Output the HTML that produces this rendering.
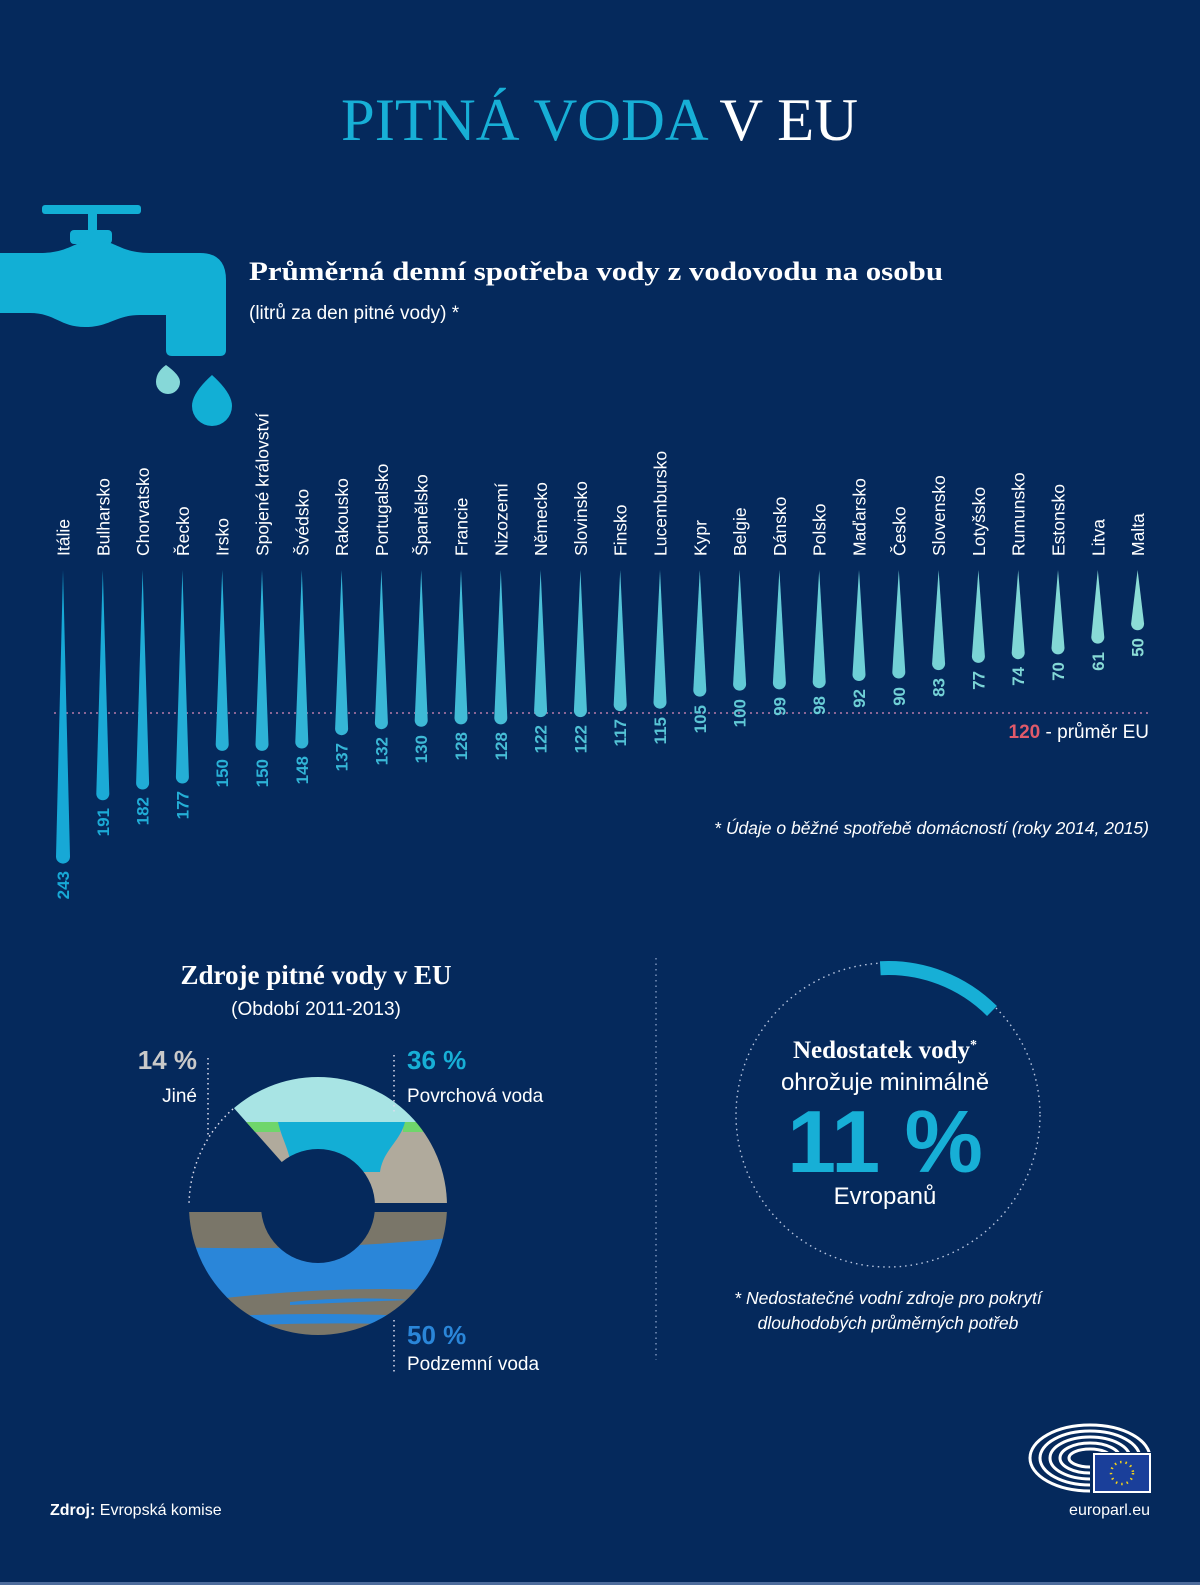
<!DOCTYPE html>
<html><head><meta charset="utf-8"><style>
html,body{margin:0;padding:0;background:#05295c}
svg{display:block}
.s{font-family:"Liberation Sans",sans-serif}
.sf{font-family:"Liberation Serif",serif}
</style></head><body>
<svg width="1200" height="1585" viewBox="0 0 1200 1585" xmlns="http://www.w3.org/2000/svg">
<defs>
<clipPath id="ctop"><polygon points="318,1203 470,1203 470,1050 187,1055"/></clipPath>
<clipPath id="cbot"><rect x="170" y="1212" width="300" height="150"/></clipPath>
<clipPath id="clogo"><path d="M1000,1400 H1160 V1452 H1090 V1500 H1000 Z"/></clipPath>
<mask id="ann"><rect x="150" y="1040" width="340" height="340" fill="#000"/><circle cx="318" cy="1206" r="129" fill="#fff"/><circle cx="318" cy="1206" r="57" fill="#000"/></mask>
</defs>
<rect width="1200" height="1585" fill="#05295c"/>
<rect y="1582" width="1200" height="3" fill="#4d6c9c"/>

<text x="341" y="140" font-size="60" class="sf" textLength="517" lengthAdjust="spacingAndGlyphs" fill="#17afd6">PITNÁ VODA <tspan fill="#fff">V EU</tspan></text>

<!-- faucet -->
<g fill="#12afd5">
<rect x="42" y="205" width="99" height="9" rx="3"/>
<rect x="88" y="212" width="9" height="22"/>
<rect x="70" y="230" width="42" height="14" rx="4"/>
<path d="M0,253 L40,253 C70,253 75,240 95,240 C115,240 120,253 150,253 L200,253 Q226,253 226,280 L226,350 Q226,356 220,356 L172,356 Q166,356 166,350 L166,315 L140,315 C115,315 110,327 85,327 C60,327 55,313 30,313 L0,313 Z"/>
<path d="M212,375 Q232,393 232,406 A20,20 0 0 1 192,406 Q192,393 212,375 Z"/>
</g>
<path d="M166,365 Q180,375 180,382 A12,12 0 0 1 156,382 Q156,372 166,365 Z" fill="#86d8d8"/>

<text x="249" y="280" font-size="26" font-weight="bold" class="sf" fill="#fff" textLength="694" lengthAdjust="spacingAndGlyphs">Průměrná denní spotřeba vody z vodovodu na osobu</text>
<text x="249" y="319" font-size="19" class="s" fill="#fff">(litrů za den pitné vody) *</text>

<line x1="54" y1="713" x2="1150" y2="713" stroke="#b87aa8" stroke-width="1.6" stroke-dasharray="2 4"/>

<!-- bars -->
<path fill="rgb(23,168,214)" transform="translate(63,570)" d="M0,0 L7,286.6 A7,7 0 0 1 -7,286.6 Z"/>
<path fill="rgb(27,170,214)" transform="translate(102.8,570)" d="M0,0 L6.5,223.8 A6.5,6.5 0 0 1 -6.5,223.8 Z"/>
<path fill="rgb(32,172,214)" transform="translate(142.6,570)" d="M0,0 L6.5,213 A6.5,6.5 0 0 1 -6.5,213 Z"/>
<path fill="rgb(36,174,214)" transform="translate(182.4,570)" d="M0,0 L6.5,207 A6.5,6.5 0 0 1 -6.5,207 Z"/>
<path fill="rgb(40,176,214)" transform="translate(222.2,570)" d="M0,0 L6.5,174.4 A6.5,6.5 0 0 1 -6.5,174.4 Z"/>
<path fill="rgb(45,178,214)" transform="translate(262,570)" d="M0,0 L6.5,174.4 A6.5,6.5 0 0 1 -6.5,174.4 Z"/>
<path fill="rgb(49,180,214)" transform="translate(301.8,570)" d="M0,0 L6.5,172 A6.5,6.5 0 0 1 -6.5,172 Z"/>
<path fill="rgb(53,181,214)" transform="translate(341.6,570)" d="M0,0 L6.5,158.7 A6.5,6.5 0 0 1 -6.5,158.7 Z"/>
<path fill="rgb(58,183,214)" transform="translate(381.4,570)" d="M0,0 L6.5,152.7 A6.5,6.5 0 0 1 -6.5,152.7 Z"/>
<path fill="rgb(62,185,214)" transform="translate(421.2,570)" d="M0,0 L6.5,150.3 A6.5,6.5 0 0 1 -6.5,150.3 Z"/>
<path fill="rgb(66,187,214)" transform="translate(461,570)" d="M0,0 L6.5,147.9 A6.5,6.5 0 0 1 -6.5,147.9 Z"/>
<path fill="rgb(71,189,214)" transform="translate(500.8,570)" d="M0,0 L6.5,147.9 A6.5,6.5 0 0 1 -6.5,147.9 Z"/>
<path fill="rgb(75,191,214)" transform="translate(540.6,570)" d="M0,0 L6.5,140.6 A6.5,6.5 0 0 1 -6.5,140.6 Z"/>
<path fill="rgb(79,193,214)" transform="translate(580.4,570)" d="M0,0 L6.5,140.6 A6.5,6.5 0 0 1 -6.5,140.6 Z"/>
<path fill="rgb(84,195,214)" transform="translate(620.2,570)" d="M0,0 L6.5,134.6 A6.5,6.5 0 0 1 -6.5,134.6 Z"/>
<path fill="rgb(88,197,214)" transform="translate(660,570)" d="M0,0 L6.5,132.2 A6.5,6.5 0 0 1 -6.5,132.2 Z"/>
<path fill="rgb(92,199,214)" transform="translate(699.8,570)" d="M0,0 L6.5,120.1 A6.5,6.5 0 0 1 -6.5,120.1 Z"/>
<path fill="rgb(97,201,214)" transform="translate(739.6,570)" d="M0,0 L6.5,114.1 A6.5,6.5 0 0 1 -6.5,114.1 Z"/>
<path fill="rgb(101,203,214)" transform="translate(779.4,570)" d="M0,0 L6.5,112.9 A6.5,6.5 0 0 1 -6.5,112.9 Z"/>
<path fill="rgb(105,205,214)" transform="translate(819.2,570)" d="M0,0 L6.5,111.7 A6.5,6.5 0 0 1 -6.5,111.7 Z"/>
<path fill="rgb(110,207,214)" transform="translate(859,570)" d="M0,0 L6.5,104.5 A6.5,6.5 0 0 1 -6.5,104.5 Z"/>
<path fill="rgb(114,208,214)" transform="translate(898.8,570)" d="M0,0 L6.5,102 A6.5,6.5 0 0 1 -6.5,102 Z"/>
<path fill="rgb(118,210,214)" transform="translate(938.6,570)" d="M0,0 L6.5,93.6 A6.5,6.5 0 0 1 -6.5,93.6 Z"/>
<path fill="rgb(123,212,214)" transform="translate(978.4,570)" d="M0,0 L6.5,86.4 A6.5,6.5 0 0 1 -6.5,86.4 Z"/>
<path fill="rgb(127,214,214)" transform="translate(1018.2,570)" d="M0,0 L6.5,82.7 A6.5,6.5 0 0 1 -6.5,82.7 Z"/>
<path fill="rgb(131,216,214)" transform="translate(1058,570)" d="M0,0 L6.5,77.9 A6.5,6.5 0 0 1 -6.5,77.9 Z"/>
<path fill="rgb(136,218,214)" transform="translate(1097.8,570)" d="M0,0 L6.5,67.1 A6.5,6.5 0 0 1 -6.5,67.1 Z"/>
<path fill="rgb(140,220,214)" transform="translate(1137.6,570)" d="M0,0 L6.5,53.8 A6.5,6.5 0 0 1 -6.5,53.8 Z"/>

<!-- value labels -->
<g font-size="17" font-weight="bold" class="s" text-anchor="end">
<text fill="rgb(23,168,214)" transform="translate(69,871) rotate(-90)">243</text>
<text fill="rgb(27,170,214)" transform="translate(108.8,808) rotate(-90)">191</text>
<text fill="rgb(32,172,214)" transform="translate(148.6,797) rotate(-90)">182</text>
<text fill="rgb(36,174,214)" transform="translate(188.4,791) rotate(-90)">177</text>
<text fill="rgb(40,176,214)" transform="translate(228.2,759) rotate(-90)">150</text>
<text fill="rgb(45,178,214)" transform="translate(268,759) rotate(-90)">150</text>
<text fill="rgb(49,180,214)" transform="translate(307.8,756) rotate(-90)">148</text>
<text fill="rgb(53,181,214)" transform="translate(347.6,743) rotate(-90)">137</text>
<text fill="rgb(58,183,214)" transform="translate(387.4,737) rotate(-90)">132</text>
<text fill="rgb(62,185,214)" transform="translate(427.2,735) rotate(-90)">130</text>
<text fill="rgb(66,187,214)" transform="translate(467,732) rotate(-90)">128</text>
<text fill="rgb(71,189,214)" transform="translate(506.8,732) rotate(-90)">128</text>
<text fill="rgb(75,191,214)" transform="translate(546.6,725) rotate(-90)">122</text>
<text fill="rgb(79,193,214)" transform="translate(586.4,725) rotate(-90)">122</text>
<text fill="rgb(84,195,214)" transform="translate(626.2,719) rotate(-90)">117</text>
<text fill="rgb(88,197,214)" transform="translate(666,717) rotate(-90)">115</text>
<text fill="rgb(92,199,214)" transform="translate(705.8,705) rotate(-90)">105</text>
<text fill="rgb(97,201,214)" transform="translate(745.6,699) rotate(-90)">100</text>
<text fill="rgb(101,203,214)" transform="translate(785.4,697) rotate(-90)">99</text>
<text fill="rgb(105,205,214)" transform="translate(825.2,696) rotate(-90)">98</text>
<text fill="rgb(110,207,214)" transform="translate(865,689) rotate(-90)">92</text>
<text fill="rgb(114,208,214)" transform="translate(904.8,687) rotate(-90)">90</text>
<text fill="rgb(118,210,214)" transform="translate(944.6,678) rotate(-90)">83</text>
<text fill="rgb(123,212,214)" transform="translate(984.4,671) rotate(-90)">77</text>
<text fill="rgb(127,214,214)" transform="translate(1024.2,667) rotate(-90)">74</text>
<text fill="rgb(131,216,214)" transform="translate(1064,662) rotate(-90)">70</text>
<text fill="rgb(136,218,214)" transform="translate(1103.8,652) rotate(-90)">61</text>
<text fill="rgb(140,220,214)" transform="translate(1143.6,638) rotate(-90)">50</text>
</g>

<!-- country labels -->
<g fill="#fff" font-size="17.5" class="s">
<text transform="translate(69.5,556) rotate(-90)">Itálie</text>
<text transform="translate(109.3,556) rotate(-90)">Bulharsko</text>
<text transform="translate(149.1,556) rotate(-90)">Chorvatsko</text>
<text transform="translate(188.9,556) rotate(-90)">Řecko</text>
<text transform="translate(228.7,556) rotate(-90)">Irsko</text>
<text transform="translate(268.5,556) rotate(-90)">Spojené království</text>
<text transform="translate(308.3,556) rotate(-90)">Švédsko</text>
<text transform="translate(348.1,556) rotate(-90)">Rakousko</text>
<text transform="translate(387.9,556) rotate(-90)">Portugalsko</text>
<text transform="translate(427.7,556) rotate(-90)">Španělsko</text>
<text transform="translate(467.5,556) rotate(-90)">Francie</text>
<text transform="translate(507.3,556) rotate(-90)">Nizozemí</text>
<text transform="translate(547.1,556) rotate(-90)">Německo</text>
<text transform="translate(586.9,556) rotate(-90)">Slovinsko</text>
<text transform="translate(626.7,556) rotate(-90)">Finsko</text>
<text transform="translate(666.5,556) rotate(-90)">Lucembursko</text>
<text transform="translate(706.3,556) rotate(-90)">Kypr</text>
<text transform="translate(746.1,556) rotate(-90)">Belgie</text>
<text transform="translate(785.9,556) rotate(-90)">Dánsko</text>
<text transform="translate(825.7,556) rotate(-90)">Polsko</text>
<text transform="translate(865.5,556) rotate(-90)">Maďarsko</text>
<text transform="translate(905.3,556) rotate(-90)">Česko</text>
<text transform="translate(945.1,556) rotate(-90)">Slovensko</text>
<text transform="translate(984.9,556) rotate(-90)">Lotyšsko</text>
<text transform="translate(1024.7,556) rotate(-90)">Rumunsko</text>
<text transform="translate(1064.5,556) rotate(-90)">Estonsko</text>
<text transform="translate(1104.3,556) rotate(-90)">Litva</text>
<text transform="translate(1144.1,556) rotate(-90)">Malta</text>
</g>

<text x="1149" y="738" font-size="19" class="s" fill="#fff" text-anchor="end"><tspan fill="#e05a6a" font-weight="bold">120</tspan> - průměr EU</text>
<text x="1149" y="834" font-size="17.5" font-style="italic" class="s" fill="#fff" text-anchor="end">* Údaje o běžné spotřebě domácností (roky 2014, 2015)</text>

<line x1="656" y1="958" x2="656" y2="1360" stroke="#8aa0c8" stroke-width="1.3" stroke-dasharray="1.5 4"/>

<!-- sources donut -->
<text x="316" y="984" font-size="27" font-weight="bold" class="sf" fill="#fff" text-anchor="middle">Zdroje pitné vody v EU</text>
<text x="316" y="1015" font-size="19" class="s" fill="#fff" text-anchor="middle">(Období 2011-2013)</text>

<g mask="url(#ann)">
<g clip-path="url(#ctop)">
<rect x="150" y="1040" width="340" height="82" fill="#a8e4e4"/>
<rect x="150" y="1122" width="340" height="90" fill="#b0aa9c"/>
<rect x="240" y="1122" width="40" height="10" fill="#6fd66b"/>
<rect x="403" y="1122" width="20" height="10" fill="#6fd66b"/>
<path d="M278,1122 L405,1122 C400,1142 383,1150 380,1172 L292,1172 C290,1150 282,1140 278,1122 Z" fill="#13aed5"/>
</g>
<g clip-path="url(#cbot)">
<rect x="170" y="1212" width="300" height="150" fill="#7a7669"/>
<path d="M170,1247 Q320,1252 470,1236 L470,1292 Q330,1282 170,1305 Z" fill="#2a86d9"/>
<path d="M290,1302 Q350,1296 410,1300 Q350,1302 290,1305 Z" fill="#2a86d9"/>
<path d="M190,1318 Q320,1310 450,1318 L450,1326 Q320,1320 190,1328 Z" fill="#2a86d9"/>
</g>
</g>
<path d="M233,1109 A129,129 0 0 0 189,1206" fill="none" stroke="#dde" stroke-width="1.5" stroke-dasharray="1.5 3.5"/>
<line x1="208" y1="1058" x2="208" y2="1138" stroke="#dde" stroke-width="1.5" stroke-dasharray="1.5 3.5"/>
<line x1="394" y1="1055" x2="394" y2="1112" stroke="#dde" stroke-width="1.5" stroke-dasharray="1.5 3.5"/>
<line x1="394" y1="1320" x2="394" y2="1372" stroke="#dde" stroke-width="1.5" stroke-dasharray="1.5 3.5"/>
<text x="197" y="1069" font-size="26" font-weight="bold" class="s" fill="#c9c9c9" text-anchor="end">14 %</text>
<text x="197" y="1102" font-size="19" class="s" fill="#fff" text-anchor="end">Jiné</text>
<text x="407" y="1069" font-size="26" font-weight="bold" class="s" fill="#17afd6">36 %</text>
<text x="407" y="1102" font-size="19" class="s" fill="#fff">Povrchová voda</text>
<text x="407" y="1344" font-size="26" font-weight="bold" class="s" fill="#2a86d9">50 %</text>
<text x="407" y="1370" font-size="19" class="s" fill="#fff">Podzemní voda</text>

<!-- scarcity circle -->
<circle cx="888" cy="1115" r="152" fill="none" stroke="#b8c6e0" stroke-width="1.4" stroke-dasharray="1.5 4"/>
<path d="M880.3,968.2 A147,147 0 0 1 992,1011" fill="none" stroke="#17afd6" stroke-width="14"/>
<text x="885" y="1058" font-size="25" font-weight="bold" class="sf" fill="#fff" text-anchor="middle">Nedostatek vody<tspan font-size="14" dy="-9">*</tspan></text>
<text x="885" y="1090" font-size="24" class="s" fill="#fff" text-anchor="middle">ohrožuje minimálně</text>
<text x="885" y="1172" font-size="88" font-weight="bold" class="s" fill="#17afd6" text-anchor="middle">11 %</text>
<text x="885" y="1204" font-size="24" class="s" fill="#fff" text-anchor="middle">Evropanů</text>
<text x="888" y="1304" font-size="17.5" font-style="italic" class="s" fill="#fff" text-anchor="middle">* Nedostatečné vodní zdroje pro pokrytí</text>
<text x="888" y="1329" font-size="17.5" font-style="italic" class="s" fill="#fff" text-anchor="middle">dlouhodobých průměrných potřeb</text>

<!-- logo -->
<g clip-path="url(#clogo)" fill="none" stroke="#fff" stroke-width="3">
<ellipse cx="1090" cy="1458" rx="60" ry="33"/>
<ellipse cx="1090" cy="1458" rx="50" ry="27"/>
<ellipse cx="1090" cy="1458" rx="40" ry="21"/>
<ellipse cx="1090" cy="1458" rx="30" ry="15"/>
<ellipse cx="1090" cy="1458" rx="21" ry="9"/>
</g>
<rect x="1094" y="1454" width="56" height="38" fill="#1a3f9a" stroke="#fff" stroke-width="2"/>
<circle cx="1122" cy="1473" r="11" fill="none" stroke="#f2d21b" stroke-width="2.5" stroke-dasharray="1.5 4"/>
<text x="50" y="1515" font-size="16" class="s" fill="#fff"><tspan font-weight="bold">Zdroj:</tspan> Evropská komise</text>
<text x="1150" y="1515" font-size="16" class="s" fill="#fff" text-anchor="end">europarl.eu</text>
</svg>
</body></html>
